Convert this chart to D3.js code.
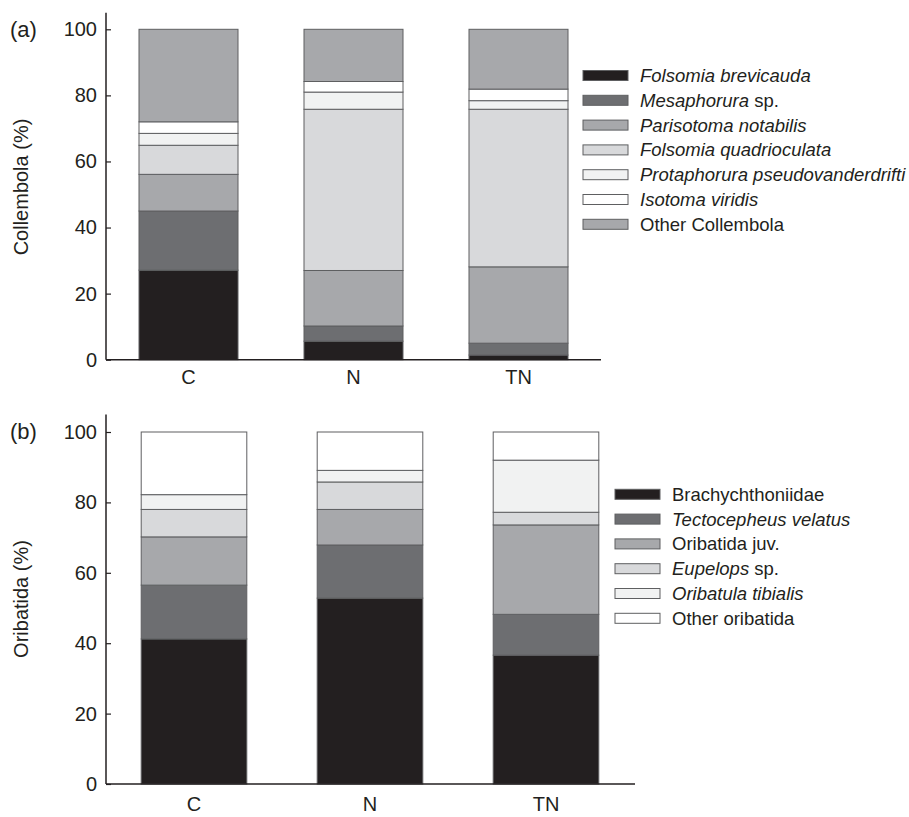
<!DOCTYPE html>
<html>
<head>
<meta charset="utf-8">
<script src="https://cdn.jsdelivr.net/npm/d3@7/dist/d3.min.js"></script>
<style>
  body { margin: 0; background: #fff; }
  svg { display: block; font-family: "Liberation Sans", Arial, sans-serif; }
</style>
</head>
<body>
<svg id="chart" width="909" height="817"></svg>
<script>
// ---- Data ----
const categories = ["C", "N", "TN"];
const yTicks = [0, 20, 40, 60, 80, 100];

// Panel (a): Collembola (%)
const collemSeries = ["Folsomia brevicauda", "Mesaphorura sp.", "Parisotoma notabilis",
  "Folsomia quadrioculata", "Protaphorura pseudovanderdrifti", "Isotoma viridis", "Other Collembola"];
const folsomiaBrevicauda   = [27.1, 5.6, 1.4];
const mesaphorura          = [17.9, 4.6, 3.6];
const parisotomaNotabilis  = [11.1, 16.8, 23.1];
const folsomiaQuadrioc     = [8.8, 48.8, 47.7];
const protaphorura         = [3.6, 5.2, 2.6];
const isotomaViridis       = [3.5, 3.2, 3.5];
const otherCollembola      = [28.0, 15.8, 18.1];

// Panel (b): Oribatida (%)
const oribSeries = ["Brachychthoniidae", "Tectocepheus velatus", "Oribatida juv.",
  "Eupelops sp.", "Oribatula tibialis", "Other oribatida"];
const brachychthoniidae    = [41.2, 52.8, 36.6];
const tectocepheusVelatus  = [15.3, 15.1, 11.6];
const oribatidaJuv         = [13.7, 10.1, 25.4];
const eupelops             = [7.8, 7.8, 3.6];
const oribatulaTibialis    = [4.2, 3.3, 14.8];
const otherOribatida       = [17.8, 10.9, 8.0];

// ---- Styling ----
const fillsA = ["#231f20", "#6d6e71", "#a7a8ab", "#d8d9db", "#f1f2f2", "#ffffff", "#a7a8ab"];
const fillsB = ["#231f20", "#6d6e71", "#a7a8ab", "#d8d9db", "#f1f2f2", "#ffffff"];
const italicA = [[true, ""], [true, " sp."], [true, ""], [true, ""], [true, ""], [true, ""], [false, ""]];
const italicB = [[false, ""], [true, ""], [false, ""], [true, " sp."], [true, ""], [false, ""]];

const svg = d3.select("#chart");

function panel(cfg) {
  const g = svg.append("g");
  const x = d3.scaleBand().domain(categories)
    .range([cfg.x0, cfg.x0 + cfg.step * 3]).paddingInner(0.4).paddingOuter(0.2);
  const y = d3.scaleLinear().domain([0, 105]).range([cfg.yBottom, cfg.yBottom - 105 * cfg.ppu]);

  const rows = categories.map((c, i) => {
    const o = { cat: c };
    cfg.series.forEach((s, k) => o[s] = cfg.values[k][i]);
    return o;
  });
  const stack = d3.stack().keys(cfg.series)(rows);

  stack.forEach((layer, k) => {
    g.selectAll(null).data(layer).enter().append("rect")
      .attr("x", d => x(d.data.cat))
      .attr("width", x.bandwidth())
      .attr("y", d => y(d[1]))
      .attr("height", d => y(d[0]) - y(d[1]))
      .attr("fill", cfg.fills[k])
      .attr("stroke", "#5e5f61")
      .attr("stroke-width", 1);
  });

  // y axis
  const yAxis = d3.axisLeft(y).tickValues(yTicks).tickSize(-5).tickPadding(9);
  const ya = g.append("g").attr("transform", `translate(${cfg.axisX},0)`).call(yAxis);
  ya.select(".domain").attr("d", `M0,${y(105)}V${y(0)}`).attr("stroke", "#231f20").attr("stroke-width", 1.5);
  ya.selectAll(".tick line").attr("stroke", "#231f20").attr("stroke-width", 1.2);
  ya.selectAll(".tick text").attr("font-size", 20).attr("fill", "#231f20")
    .attr("font-family", "Liberation Sans, Arial, sans-serif");

  // x axis line
  g.append("line").attr("x1", cfg.axisX).attr("x2", cfg.xEnd)
    .attr("y1", y(0)).attr("y2", y(0)).attr("stroke", "#231f20").attr("stroke-width", 1.5);
  const xAxis = d3.axisBottom(x).tickSize(0).tickPadding(cfg.labelPad);
  const xa = g.append("g").attr("transform", `translate(0,${y(0)})`).call(xAxis);
  xa.select(".domain").remove();
  xa.selectAll(".tick text").attr("font-size", 20).attr("fill", "#231f20")
    .attr("font-family", "Liberation Sans, Arial, sans-serif");

  // axis title
  g.append("text")
    .attr("transform", `translate(${cfg.titleX},${cfg.titleY}) rotate(-90)`)
    .attr("text-anchor", "middle").attr("dy", "0.35em")
    .attr("font-size", 20).attr("fill", "#231f20").text(cfg.title);

  // panel label
  g.append("text").attr("x", 10).attr("y", cfg.tagY)
    .attr("font-size", 22).attr("fill", "#231f20").text(cfg.tag);

  // legend
  cfg.series.forEach((s, k) => {
    const ly = cfg.legY + k * cfg.legStep;
    g.append("rect").attr("x", cfg.legX).attr("y", ly - 5).attr("width", 45).attr("height", 10)
      .attr("fill", cfg.fills[k]).attr("stroke", "#5e5f61").attr("stroke-width", 1);
    const t = g.append("text").attr("x", cfg.legX + 57).attr("y", ly).attr("dy", "0.35em")
      .attr("font-size", 18.5).attr("fill", "#231f20");
    const [ital, suffix] = cfg.italic[k];
    const base = suffix ? s.slice(0, s.length - suffix.length) : s;
    t.append("tspan").attr("font-style", ital ? "italic" : "normal").text(base);
    if (suffix) t.append("tspan").text(suffix);
  });
}

panel({
  series: collemSeries,
  values: [folsomiaBrevicauda, mesaphorura, parisotomaNotabilis, folsomiaQuadrioc, protaphorura, isotomaViridis, otherCollembola],
  fills: fillsA, italic: italicA,
  x0: 106, step: 165, axisX: 106, xEnd: 601,
  yBottom: 359.7, ppu: 3.304,
  labelPad: 10, title: "Collembola (%)", titleX: 21, titleY: 187,
  tag: "(a)", tagY: 37,
  legX: 583, legY: 75.5, legStep: 24.8
});

panel({
  series: oribSeries,
  values: [brachychthoniidae, tectocepheusVelatus, oribatidaJuv, eupelops, oribatulaTibialis, otherOribatida],
  fills: fillsB, italic: italicB,
  x0: 106, step: 176, axisX: 106, xEnd: 635,
  yBottom: 784, ppu: 3.52,
  labelPad: 13, title: "Oribatida (%)", titleX: 21, titleY: 599,
  tag: "(b)", tagY: 439,
  legX: 615, legY: 494.3, legStep: 24.8
});
</script>
</body>
</html>
